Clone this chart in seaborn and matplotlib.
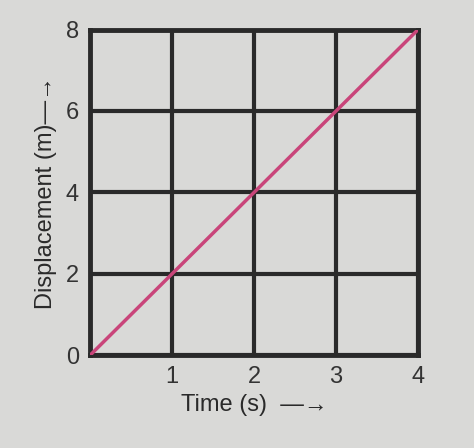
import matplotlib
matplotlib.use("Agg")
import matplotlib.pyplot as plt
import seaborn as sns
import pandas as pd

time_s = [0, 1, 2, 3, 4]
displacement_m = [0, 2, 4, 6, 8]
x_ticks = [1, 2, 3, 4]
y_ticks = [0, 2, 4, 6, 8]

BG = "#d9d9d7"
sns.set_style("white")
plt.rcParams['font.family'] = ['Liberation Sans', 'DejaVu Sans']

fig = plt.figure(figsize=(4.74, 4.48), dpi=100, facecolor=BG)
ax = fig.add_axes([0.19, 0.207, 0.692, 0.727])
ax.set_facecolor(BG)

df = pd.DataFrame({"t": time_s, "d": displacement_m})
sns.lineplot(data=df, x="t", y="d", ax=ax, color="#c9457a", linewidth=2.5, zorder=3)

ax.set_xlim(0, 4)
ax.set_ylim(0, 8)
ax.set_xticks(x_ticks)
ax.set_yticks(y_ticks)
ax.grid(True, color="#2a2a2a", linewidth=3)
for s in ax.spines.values():
    s.set_color("#2a2a2a")
    s.set_linewidth(3.5)
ax.tick_params(length=0, labelsize=17, colors="#333333", pad=8)
ax.set_xlabel("Time (s)  \u2014\u2192", fontsize=17, color="#2a2a2a", labelpad=4)
ax.set_ylabel("Displacement (m)\u2014\u2192", fontsize=17, color="#2a2a2a", labelpad=6)

fig.savefig("out.png", dpi=100, facecolor=BG)
